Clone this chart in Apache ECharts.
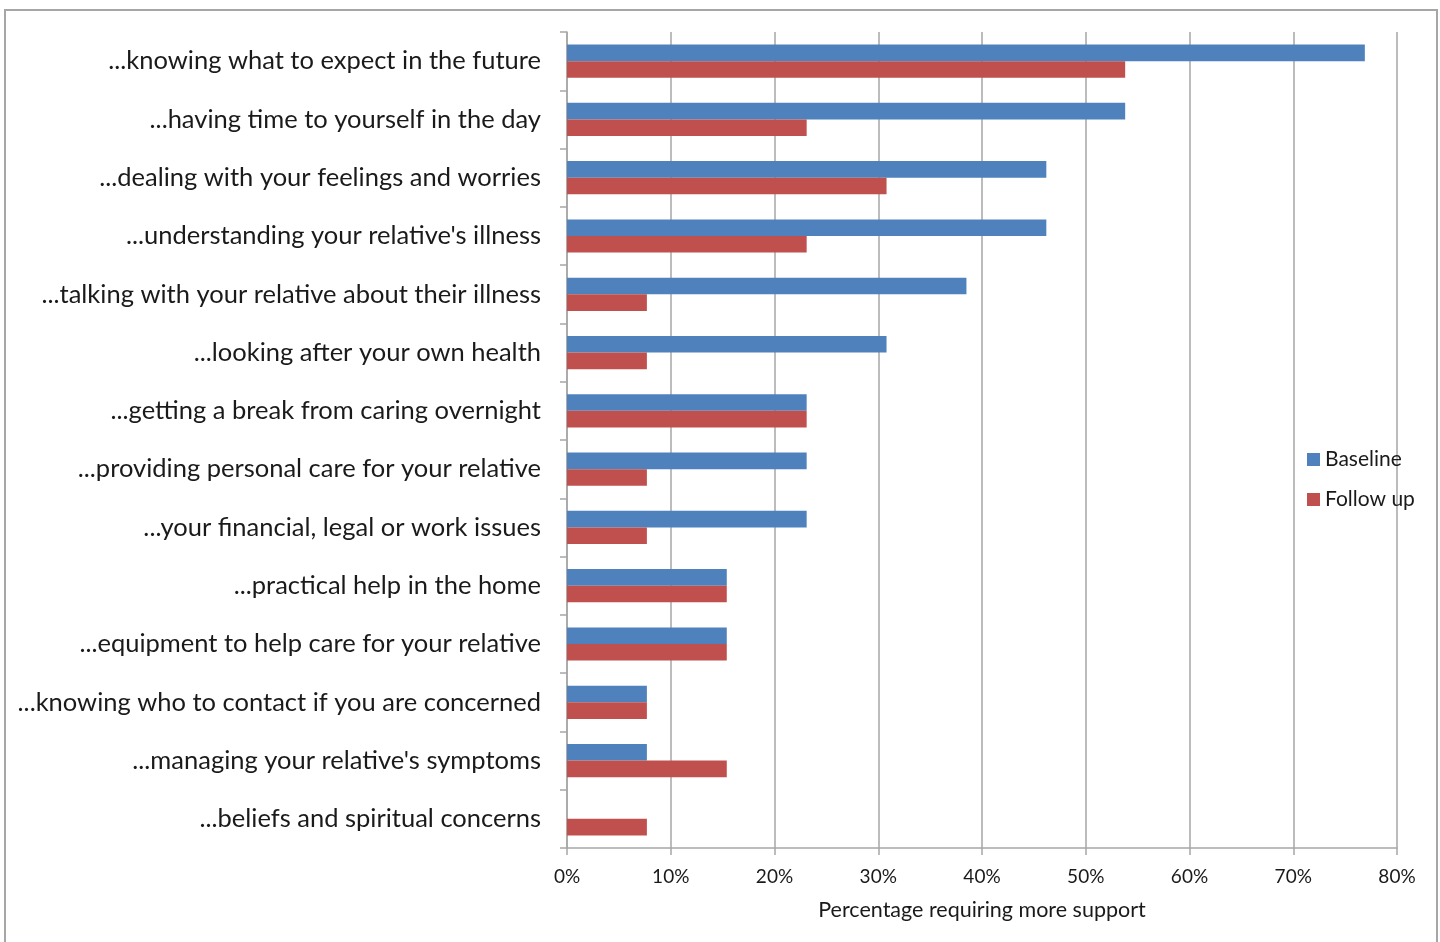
<!DOCTYPE html>
<html><head><meta charset="utf-8">
<script src="https://cdn.jsdelivr.net/npm/echarts@6/dist/echarts.min.js"></script>
<style>html,body{margin:0;padding:0;background:#fff}#c{width:1440px;height:942px}</style>
</head><body><div id="c"></div>
<script>
const categories = [
  "...knowing what to expect in the future",
  "...having time to yourself in the day",
  "...dealing with your feelings and worries",
  "...understanding your relative's illness",
  "...talking with your relative about their illness",
  "...looking after your own health",
  "...getting a break from caring overnight",
  "...providing personal care for your relative",
  "...your financial, legal or work issues",
  "...practical help in the home",
  "...equipment to help care for your relative",
  "...knowing who to contact if you are concerned",
  "...managing your relative's symptoms",
  "...beliefs and spiritual concerns"
];
const baseline = [76.9, 53.8, 46.2, 46.2, 38.5, 30.8, 23.1, 23.1, 23.1, 15.4, 15.4, 7.7, 7.7, 0];
const followUp = [53.8, 23.1, 30.8, 23.1, 7.7, 7.7, 23.1, 7.7, 7.7, 15.4, 15.4, 7.7, 15.4, 7.7];
const xTicks = [0, 10, 20, 30, 40, 50, 60, 70, 80];

const font = "Lato, 'Open Sans', sans-serif";
const chart = echarts.init(document.getElementById('c'), null, {renderer: 'canvas'});
chart.setOption({
  animation: false,
  textStyle: {fontFamily: font, color: '#1a1a1a'},
  graphic: [{
    type: 'rect', shape: {x: 5, y: 10, width: 1432, height: 940},
    style: {fill: 'none', stroke: '#a6a6a6', lineWidth: 2}, silent: true, z: -1
  }],
  grid: {left: 567, right: 43, top: 32, bottom: 94, containLabel: false},
  legend: {
    orient: 'vertical', left: 1302, top: 444, itemWidth: 13, itemHeight: 13, itemGap: 19,
    icon: 'rect',
    textStyle: {fontFamily: font, fontSize: 21, color: '#1a1a1a', padding: [0, 0, 0, 0]},
    data: ['Baseline', 'Follow up']
  },
  xAxis: {
    type: 'value', min: xTicks[0], max: xTicks[xTicks.length - 1], interval: 10,
    name: 'Percentage requiring more support', nameLocation: 'middle', nameGap: 51,
    nameTextStyle: {fontFamily: font, fontSize: 21.5, color: '#1a1a1a'},
    axisLine: {show: true, lineStyle: {color: '#a6a6a6', width: 1.5}},
    axisTick: {show: true, length: 7, lineStyle: {color: '#a6a6a6', width: 1.5}},
    axisLabel: {formatter: '{value}%', fontFamily: font, fontSize: 19, color: '#1a1a1a', margin: 19},
    splitLine: {show: true, lineStyle: {color: '#a6a6a6', width: 1.5}}
  },
  yAxis: {
    type: 'category', data: categories, inverse: true,
    axisLine: {show: true, lineStyle: {color: '#a6a6a6', width: 1.5}},
    axisTick: {show: true, length: 7, lineStyle: {color: '#a6a6a6', width: 1.5}},
    axisLabel: {fontFamily: font, fontSize: 25.5, color: '#1a1a1a', margin: 26}
  },
  series: [
    {name: 'Baseline', type: 'bar', data: baseline, barGap: '0%', barCategoryGap: '43%',
     itemStyle: {color: '#4F81BD'}},
    {name: 'Follow up', type: 'bar', data: followUp, barGap: '0%', barCategoryGap: '43%',
     itemStyle: {color: '#C0504D'}}
  ]
});
</script></body></html>
